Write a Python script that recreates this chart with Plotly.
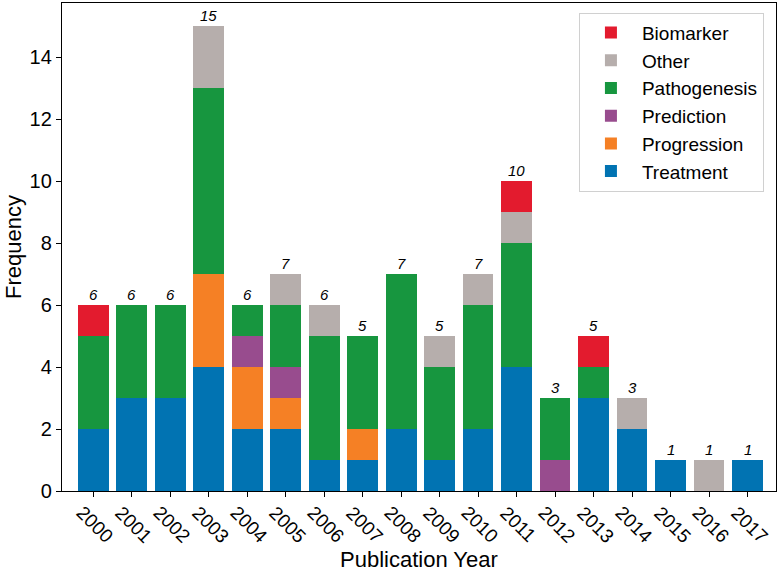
import plotly.graph_objects as go

# publication counts per year, split by topic
years = list(range(2000, 2018))
treatment = [2, 3, 3, 4, 2, 2, 1, 1, 2, 1, 2, 4, 0, 3, 2, 1, 0, 1]
progression = [0, 0, 0, 3, 2, 1, 0, 1, 0, 0, 0, 0, 0, 0, 0, 0, 0, 0]
prediction = [0, 0, 0, 0, 1, 1, 0, 0, 0, 0, 0, 0, 1, 0, 0, 0, 0, 0]
pathogenesis = [3, 3, 3, 6, 1, 2, 4, 3, 5, 3, 4, 4, 2, 1, 0, 0, 0, 0]
other = [0, 0, 0, 2, 0, 1, 1, 0, 0, 1, 1, 1, 0, 0, 1, 0, 1, 0]
biomarker = [1, 0, 0, 0, 0, 0, 0, 0, 0, 0, 0, 1, 0, 1, 0, 0, 0, 0]

series = [
    ("Treatment", treatment, "#0173b2"),
    ("Progression", progression, "#f58025"),
    ("Prediction", prediction, "#984c8e"),
    ("Pathogenesis", pathogenesis, "#17963f"),
    ("Other", other, "#b6aeac"),
    ("Biomarker", biomarker, "#e31b2e"),
]

FONT = "Liberation Sans, Arial, sans-serif"

fig = go.Figure()
for name, vals, col in series:
    fig.add_trace(go.Bar(x=years, y=vals, name=name, marker_color=col,
                         marker_line_width=0))

# totals on top of each bar
totals = [sum(v) for v in zip(*[s[1] for s in series])]
for yr, tot in zip(years, totals):
    fig.add_annotation(x=yr, y=tot, text=str(tot), showarrow=False,
                       yanchor="bottom", yshift=0,
                       font=dict(size=15, style="italic", color="black"))

# rotated year labels, centred under each tick (matplotlib style)
for yr in years:
    fig.add_annotation(x=yr, xref="x", y=0, yref="paper", text=str(yr),
                       showarrow=False, textangle=45,
                       xanchor="center", yanchor="middle", yshift=-33, xshift=2,
                       font=dict(size=19, color="black"))

# axis titles
fig.add_annotation(x=0.5, xref="paper", y=0, yref="paper", text="Publication Year",
                   showarrow=False, xanchor="center", yanchor="middle", yshift=-68,
                   font=dict(size=22, color="black"))
fig.add_annotation(x=0, xref="paper", y=0.5, yref="paper", text="Frequency",
                   showarrow=False, textangle=-90, xanchor="center", yanchor="middle",
                   xshift=-49, font=dict(size=22, color="black"))

fig.update_layout(
    width=780, height=573,
    barmode="stack", bargap=0.2,
    plot_bgcolor="white", paper_bgcolor="white",
    margin=dict(l=62, r=4, t=3, b=82),
    font=dict(family=FONT, size=19, color="black"),
    showlegend=True,
    legend=dict(x=0.724, y=0.98, xanchor="left", yanchor="top",
                traceorder="reversed", bordercolor="#d0d0d0", borderwidth=1,
                bgcolor="white", font=dict(size=19), itemwidth=52,
                tracegroupgap=0),
    xaxis=dict(range=[1999.19, 2017.74], tickvals=years, showticklabels=False,
               showline=True, mirror=True, linecolor="black", linewidth=1.3,
               ticks="outside", ticklen=5, tickcolor="black",
               showgrid=False, zeroline=False, automargin=False),
    yaxis=dict(range=[0, 15.75], tickvals=list(range(0, 15, 2)),
               showline=True, mirror=True, linecolor="black", linewidth=1.3,
               ticks="outside", ticklen=5, tickcolor="black",
               tickfont=dict(size=20),
               showgrid=False, zeroline=False, automargin=False),
)

# drop the browser's default page margin so the figure sits at the corner
fig.write_html("out.html", config={"displayModeBar": False},
               post_script="document.body.style.margin='0';")
